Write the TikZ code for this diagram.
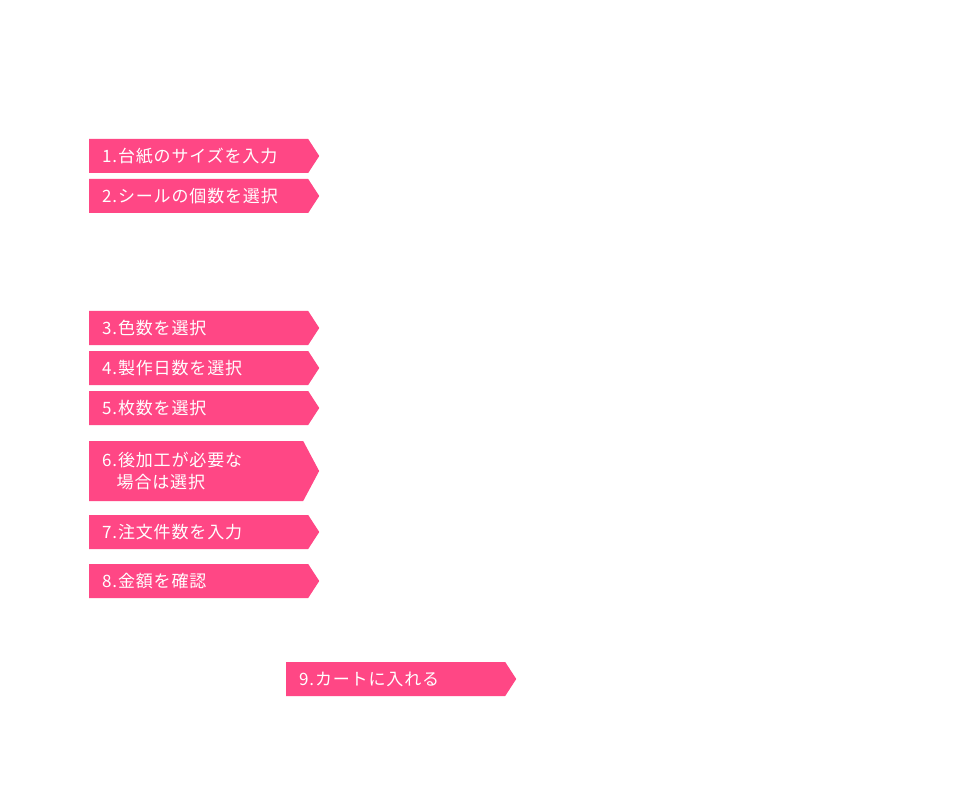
\documentclass[tikz,border=0pt]{standalone}
\usepackage{fontspec}
\newfontfamily\jpfont[LetterSpace=5]{Noto Sans CJK JP}
\usetikzlibrary{shapes.symbols, positioning}
\definecolor{stepPink}{HTML}{FF4785}

\begin{document}
\begin{tikzpicture}[x=1pt, y=-1pt,
    stepbox/.style={signal, signal to=east, signal pointer angle=114,
      fill=stepPink, text=white, font=\jpfont\fontsize{17}{22}\selectfont,
      text width=193pt, align=left, inner xsep=13pt, inner ysep=0pt,
      minimum height=34pt, anchor=west}]
  \useasboundingbox[fill=white] (0,0) rectangle (955,799);

  \node[stepbox] (s1) at (89,156) {1.台紙のサイズを入力};
  \node[stepbox] (s2) at (89,196) {2.シールの個数を選択};

  \node[stepbox] (s3) at (89,328) {3.色数を選択};
  \node[stepbox] (s4) at (89,368) {4.製作日数を選択};
  \node[stepbox] (s5) at (89,408) {5.枚数を選択};
  \node[stepbox, minimum height=60pt, text width=188pt,
    signal pointer angle=124] (s6) at (89,471)
    {6.後加工が必要な\\\hspace*{0.85em}場合は選択};
  \node[stepbox] (s7) at (89,532) {7.注文件数を入力};
  \node[stepbox] (s8) at (89,581) {8.金額を確認};

  \node[stepbox] (s9) at (286,679) {9.カートに入れる};
\end{tikzpicture}
\end{document}
